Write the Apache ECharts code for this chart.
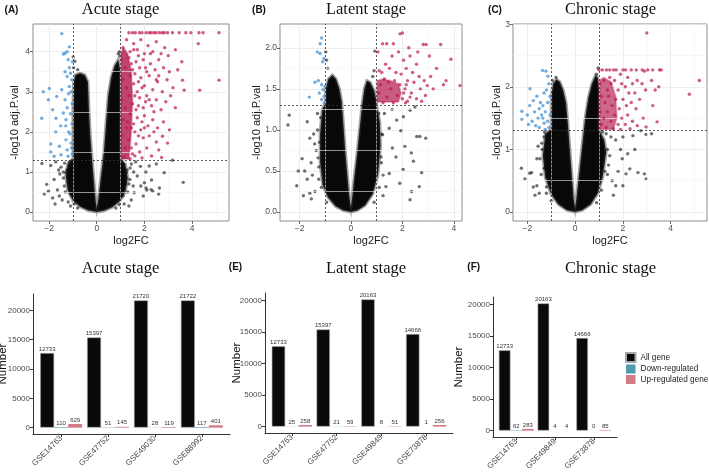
<!DOCTYPE html>
<html><head><meta charset="utf-8">
<script src="https://cdn.jsdelivr.net/npm/echarts@6/dist/echarts.min.js"></script>
<style>html,body{margin:0;padding:0;background:#fff}#c{width:709px;height:475px}</style>
</head><body><div id="c"></div>
<script>
// ---------------- bar chart data ----------------
const acuteCats = ['GSE14763','GSE47752','GSE49030','GSE88992'];
const acuteAll  = [12733,15397,21720,21722];
const acuteDown = [110,51,28,117];
const acuteUp   = [629,145,119,401];
const latentCats = ['GSE14763','GSE47752','GSE49849','GSE73878'];
const latentAll  = [12733,15397,20163,14666];
const latentDown = [25,21,8,1];
const latentUp   = [258,59,51,256];
const chronicCats = ['GSE14763','GSE49849','GSE73878'];
const chronicAll  = [12733,20163,14666];
const chronicDown = [62,4,0];
const chronicUp   = [283,4,85];
const barTicks = [0,5000,10000,15000,20000];
const legendNames = ['All gene','Down-regulated','Up-regulated gene'];

// ---------------- volcano data (log2FC, -log10 adj.P) ----------------
const acuteCore = [[0,0],[-0.35,0.04],[-0.7,0.13],[-1.0,0.28],[-1.22,0.55],[-1.3,0.9],[-1.22,1.2],[-1.0,1.32],[-1.0,2.5],[-0.98,3.2],[-0.9,3.42],[-0.7,3.47],[-0.5,3.42],[-0.37,3.25],[-0.33,2.6],[-0.27,1.9],[-0.18,1.2],[-0.1,0.65],[-0.04,0.25],[0,0.1],[0.06,0.3],[0.16,0.8],[0.3,1.5],[0.4,2.3],[0.48,2.9],[0.6,3.35],[0.75,3.65],[0.9,3.8],[1.0,3.5],[1.0,1.32],[1.2,1.2],[1.3,0.85],[1.2,0.5],[0.95,0.26],[0.65,0.12],[0.3,0.03]];
const acuteRedCore = [[1.0,1.32],[1.0,3.95],[1.12,4.1],[1.3,3.95],[1.45,3.5],[1.5,2.8],[1.45,2.0],[1.35,1.32]];
const acuteBlack = [[-2.1,0.69],[-2.03,0.52],[-1.79,0.81],[-1.57,0.4],[-1.36,0.65],[-1.29,0.98],[-1.72,1.25],[-2.3,1.21],[-1.93,1.16],[-1.5,1.12],[-1.45,0.3],[-1.65,0.55],[-1.85,0.35],[-1.4,0.85],[-1.55,0.95],[-1.35,1.22],[-1.6,1.05],[-2.2,0.45],[-1.75,0.2],[-1.2,0.25],[-1.1,0.15],[-0.99,3.87],[-0.92,3.76],[-0.97,3.6],[-0.8,3.55],[-1.05,1.28],
[1.24,0.98],[1.39,0.81],[1.53,0.65],[1.57,0.48],[1.85,0.65],[2.1,0.55],[2.3,0.8],[2.35,0.52],[2.06,1.0],[2.83,0.98],[3.18,1.29],[3.63,0.74],[1.63,1.25],[1.83,1.14],[1.4,1.1],[1.7,0.9],[1.95,0.4],[1.45,0.3],[1.3,0.5],[2.5,1.2],[2.2,1.15],[1.55,1.0],[2.6,0.45],[0.97,3.9],[0.95,4.0],[0.9,3.95],[2.28,0.56],[2.63,0.6],[2.0,0.73],[2.07,0.6],[1.15,0.2],[1.35,0.15],
[-1.1,0.45],[-1.2,0.75],[-1.25,1.05],[-1.15,1.25],[-0.95,0.2],[-0.8,0.1],[1.1,0.4],[1.2,0.7],[1.28,1.05],[1.1,1.2],[0.95,0.18],[0.8,0.1],[-1.32,0.5],[-1.05,0.6],[1.35,0.7],[1.45,1.2],[-1.4,1.0],[1.15,0.95]];
const acuteBlue = [[-1.47,4.45],[-1.33,3.96],[-1.24,4.0],[-1.2,3.8],[-1.33,3.5],[-1.24,3.38],[-1.1,3.46],[-2.24,3.0],[-1.99,3.08],[-2.03,2.8],[-1.85,2.55],[-1.68,2.88],[-1.47,3.05],[-1.33,2.8],[-1.24,2.6],[-1.18,2.95],[-1.29,2.3],[-1.51,2.15],[-1.72,2.0],[-1.93,1.7],[-1.57,1.64],[-1.29,1.8],[-1.18,2.0],[-1.24,1.55],[-2.31,2.34],[-1.93,1.5],[-1.79,1.39],[-1.5,1.43],[-1.2,1.39],[-1.08,1.72],[-1.15,3.13],[-1.3,2.15],[-1.4,2.47],[-1.05,3.3],[-1.08,3.0],[-1.03,2.7],[-1.1,2.45],[-1.04,2.2],[-1.12,1.95],[-1.06,1.6],[-1.03,1.45],[-1.15,3.6],[-1.02,3.75],[-1.15,4.12],[-1.4,3.94],[-1.71,2.34]];
const acuteRed = [[1.35,4.47],[1.5,4.47],[1.62,4.47],[1.79,4.47],[1.9,4.47],[2.07,4.47],[2.2,4.47],[2.28,4.47],[2.4,4.47],[2.49,4.47],[2.63,4.47],[2.75,4.47],[2.83,4.47],[2.97,4.47],[3.18,4.47],[3.46,4.47],[3.74,4.47],[3.95,4.47],[4.29,4.47],[4.46,4.47],[5.13,4.47],
[1.1,4.1],[1.25,4.3],[1.4,4.0],[1.55,4.2],[1.7,4.05],[1.85,4.3],[2.0,3.95],[2.15,4.15],[2.35,4.0],[2.5,4.25],[2.7,3.95],[2.85,4.1],[3.0,3.9],[3.3,4.05],[3.57,3.75],[4.26,4.2],
[1.05,3.8],[1.2,3.6],[1.35,3.85],[1.5,3.55],[1.65,3.75],[1.8,3.6],[1.95,3.8],[2.1,3.5],[2.25,3.7],[2.45,3.55],[2.6,3.8],[2.8,3.6],[3.05,3.5],[3.4,3.55],
[1.1,3.3],[1.25,3.1],[1.4,3.4],[1.55,3.2],[1.7,3.0],[1.85,3.35],[2.0,3.15],[2.2,3.4],[2.35,3.05],[2.55,3.25],[2.75,3.0],[2.95,3.3],[3.2,3.1],[3.6,3.29],[3.67,3.04],[4.32,3.04],[5.13,3.29],
[1.05,2.8],[1.2,2.6],[1.35,2.9],[1.5,2.7],[1.65,2.55],[1.8,2.85],[1.95,2.6],[2.1,2.9],[2.3,2.65],[2.5,2.8],[2.7,2.55],[2.9,2.75],[3.1,2.9],[3.3,2.6],
[1.1,2.3],[1.25,2.1],[1.4,2.45],[1.55,2.2],[1.7,2.35],[1.85,2.05],[2.0,2.4],[2.15,2.15],[2.35,2.3],[2.55,2.1],[2.8,2.25],[3.05,2.05],
[1.05,1.9],[1.2,1.6],[1.35,1.8],[1.5,1.45],[1.65,1.7],[1.8,1.5],[1.95,1.85],[2.1,1.6],[2.3,1.4],[2.5,1.75],[2.76,1.89],[2.97,1.72],[2.72,1.36],[1.15,1.38],[1.4,1.33],
[1.45,3.7],[1.6,3.45],[1.75,3.25],[1.6,2.9],[1.75,2.65],[1.9,2.25],[1.6,2.0],[1.75,1.9],[1.45,2.1],[1.9,3.1],[2.05,3.6],[1.3,2.25],[1.45,1.6],[1.6,1.4],[1.9,1.35],[2.2,1.9],[2.4,2.0],[2.6,1.55],[2.4,2.5],[2.6,3.4],[2.2,2.8],[2.0,2.1],[1.55,4.05],[1.75,3.9],[2.25,3.95],[2.5,3.3],[2.05,2.75]];

const latentCore = [[0,0],[-0.3,0.02],[-0.6,0.07],[-0.9,0.18],[-1.1,0.33],[-1.2,0.6],[-1.2,0.95],[-1.12,1.25],[-1.0,1.32],[-0.98,1.5],[-0.88,1.62],[-0.72,1.67],[-0.58,1.62],[-0.45,1.5],[-0.36,1.35],[-0.3,1.1],[-0.23,0.78],[-0.14,0.45],[-0.06,0.18],[0,0.06],[0.05,0.18],[0.12,0.4],[0.24,0.72],[0.35,1.05],[0.43,1.3],[0.52,1.5],[0.62,1.6],[0.75,1.58],[0.9,1.48],[1.0,1.35],[1.0,1.3],[1.12,1.1],[1.15,0.8],[1.05,0.45],[0.85,0.22],[0.55,0.08],[0.25,0.02]];
const latentRedCore = [[1.0,1.34],[1.0,1.6],[1.25,1.62],[1.55,1.6],[1.85,1.56],[1.95,1.45],[1.85,1.34]];
const latentBlack = [[-2.4,1.18],[-2.45,1.06],[-2.05,0.5],[-2.11,0.32],[-1.8,0.5],[-1.6,0.23],[-1.54,0.16],[-1.28,0.66],[-1.41,0.83],[-1.7,1.1],[-1.6,0.9],[-1.45,0.95],[-1.9,0.65],[-1.55,0.6],[-1.4,0.25],[-1.5,0.45],[-1.35,0.75],[-1.85,0.2],[-1.3,1.2],[-1.7,0.4],[-1.25,0.4],[-0.98,1.95],[-0.95,1.85],[-0.9,1.75],[0.93,1.96],[0.9,1.72],[0.85,1.65],
[2.56,0.92],[2.68,0.92],[2.91,0.9],[2.1,0.8],[2.35,0.72],[2.43,0.62],[2.75,0.48],[2.66,0.31],[2.36,0.25],[2.03,0.52],[1.75,0.67],[1.49,0.47],[1.36,0.31],[1.78,1.12],[2.04,1.16],[2.3,1.24],[2.49,1.28],[1.49,1.02],[1.23,0.94],[1.61,0.78],[1.94,0.99],[1.17,0.67],[2.3,0.15],[1.3,1.2],[1.6,1.25],[1.9,0.35],[1.25,0.2],
[-1.15,0.3],[-1.25,0.55],[-1.22,0.85],[-1.18,1.15],[-0.95,0.12],[1.1,0.3],[1.18,0.6],[1.2,0.95],[1.08,1.2],[0.9,0.12],[-1.3,1.0],[1.25,0.45]];
const latentBlue = [[-1.14,2.12],[-1.2,2.05],[-1.31,1.95],[-1.2,1.93],[-1.05,1.87],[-1.1,1.83],[-1.4,1.58],[-1.27,1.6],[-1.14,1.55],[-1.08,1.49],[-1.62,1.4],[-1.23,1.45],[-1.04,1.41],[-1.14,1.37],[-1.04,1.33],[-1.01,1.53]];
const latentRed = [[1.91,2.17],[2.0,2.18],[1.23,2.05],[1.39,2.05],[1.65,2.05],[2.81,2.04],[2.92,2.04],[3.49,2.04],[4.24,1.54],[3.89,1.86],[3.33,1.75],[2.97,1.54],
[1.05,1.95],[1.1,1.72],[1.2,1.7],[1.35,1.8],[1.5,1.75],[1.6,1.9],[1.75,1.7],[1.85,1.95],[2.05,1.85],[2.15,1.75],[2.3,1.9],[2.4,1.7],[2.55,1.8],[2.65,1.65],[2.2,1.6],[2.45,1.58],[2.7,1.5],[2.85,1.6],[3.1,1.65],[3.2,1.5],[3.6,1.55],[3.7,1.6],[3.05,1.9],[2.6,1.95],[1.3,1.62],[1.45,1.58],[1.7,1.6],[1.9,1.55],[2.1,1.5],[2.35,1.45],[2.55,1.38],[2.75,1.35],[2.9,1.42],[1.15,1.55],[1.55,1.5],[1.8,1.42],[2.0,1.38],[2.2,1.35],[1.08,1.45],[1.4,1.4],[1.65,1.33],[1.25,1.33],[1.95,1.68],[2.25,2.0],[2.05,1.45],[2.15,1.55],[2.3,1.4],[2.12,1.33]];

const chronicCore = [[0,0],[-0.35,0.03],[-0.7,0.12],[-1.0,0.28],[-1.25,0.55],[-1.35,0.9],[-1.25,1.25],[-1.0,1.32],[-1.0,1.85],[-0.92,2.05],[-0.78,2.12],[-0.64,2.08],[-0.5,1.95],[-0.38,1.75],[-0.3,1.4],[-0.22,1.0],[-0.14,0.6],[-0.06,0.22],[0,0.07],[0.05,0.2],[0.12,0.45],[0.22,0.8],[0.32,1.15],[0.42,1.5],[0.55,1.82],[0.7,2.05],[0.85,2.18],[0.95,2.15],[1.0,1.95],[1.0,1.32],[1.22,1.15],[1.3,0.95],[1.15,0.55],[0.95,0.3],[0.65,0.12],[0.3,0.03]];
const chronicRedCore = [[1.0,1.32],[1.0,2.1],[1.2,2.15],[1.5,2.08],[1.7,1.85],[1.75,1.5],[1.6,1.32]];
const chronicBlack = [[-2.1,0.53],[-1.82,0.63],[-1.6,0.42],[-1.47,0.85],[-1.4,1.1],[-1.2,0.3],[-1.68,0.27],[-1.9,0.62],[-1.75,0.4],[-1.6,0.85],[-1.5,0.3],[-1.3,1.2],[-1.55,1.05],[-2.25,0.7],[-0.95,2.1],[-0.8,2.15],[0.96,2.3],[0.9,2.2],
[2.97,1.24],[2.42,1.22],[2.5,1.0],[2.2,0.93],[1.97,0.85],[2.29,0.69],[2.13,0.61],[2.63,0.63],[2.9,0.61],[2.97,0.53],[2.0,0.42],[1.7,0.42],[1.6,0.27],[1.3,1.25],[1.5,1.2],[1.7,1.15],[2.0,1.2],[1.45,0.9],[1.8,0.65],[1.35,0.6],[1.55,0.5],[2.75,1.3],[3.2,1.25],[1.9,1.0],
[-1.2,0.4],[-1.3,0.7],[-1.38,1.0],[-1.28,1.28],[-1.0,0.18],[1.1,0.35],[1.25,0.65],[1.35,1.0],[1.15,1.28],[0.9,0.15],[-1.42,0.6],[1.4,0.75]];
const chronicBlue = [[-1.89,1.97],[-2.23,1.61],[-2.23,1.48],[-1.36,2.26],[-1.22,2.25],[-1.14,2.17],[-1.75,1.78],[-1.6,1.85],[-1.5,1.65],[-1.45,1.75],[-1.35,1.7],[-1.3,1.9],[-1.2,1.95],[-1.1,2.05],[-1.05,1.85],[-1.15,1.75],[-1.25,1.6],[-1.4,1.55],[-1.55,1.5],[-1.7,1.6],[-1.8,1.45],[-1.65,1.38],[-1.5,1.35],[-1.3,1.42],[-1.15,1.45],[-1.05,1.55],[-1.1,1.35],[-1.9,1.7],[-2.0,1.55],[-1.95,1.4],[-1.35,1.5],[-1.25,1.32]];
const chronicRed = [[1.0,2.27],[1.14,2.27],[1.31,2.27],[1.45,2.27],[1.61,2.27],[1.72,2.27],[2.0,2.27],[2.11,2.27],[2.35,2.27],[2.56,2.27],[2.81,2.27],[3.04,2.27],[3.25,2.27],[3.53,2.27],[3.6,2.27],[3.0,2.86],[5.2,2.1],[4.78,1.88],[3.5,2.0],[3.25,1.7],[3.43,1.44],[2.97,1.36],
[1.05,2.05],[1.2,2.1],[1.35,1.95],[1.5,2.05],[1.65,2.1],[1.8,1.95],[1.95,2.05],[2.1,2.0],[2.25,1.9],[2.4,2.05],[2.6,2.1],[2.8,2.05],[2.95,1.95],[3.2,2.1],[1.1,1.85],[1.25,1.75],[1.4,1.85],[1.55,1.7],[1.7,1.8],[1.85,1.65],[2.0,1.8],[2.15,1.7],[2.35,1.75],[2.55,1.65],[2.7,1.8],[2.2,1.55],[1.05,1.6],[1.2,1.5],[1.35,1.6],[1.5,1.45],[1.65,1.55],[1.8,1.4],[1.95,1.5],[2.1,1.4],[2.4,1.45],[2.6,1.38],[1.1,1.4],[1.3,1.35],[1.6,1.33],[1.9,1.32],[2.3,1.33],[2.85,1.5],[2.5,1.9],[1.45,2.15],[1.9,2.2],[2.2,2.15],[3.35,1.95],[2.9,2.25]];

// ---------------- build ----------------
const SANS = '"Liberation Sans", Arial, sans-serif';
const SERIF = '"Liberation Serif", "Times New Roman", serif';
const grids = [], xAxes = [], yAxes = [], series = [];
const neg = v => (v < 0 ? '\u2212' + Math.abs(v) : String(v));

function polySeries(i, pts, color, edge, edgeW, opacity, z) {
  return {type:'custom', xAxisIndex:i, yAxisIndex:i, z:z, silent:true, data:[pts[0]],
    renderItem:(p, api) => ({type:'polygon', shape:{points: pts.map(q => api.coord(q))},
      style:{fill:color, stroke:edge, lineWidth:edgeW, opacity:opacity}})};
}
function scatter(i, pts, color, opacity, z) {
  return {type:'scatter', xAxisIndex:i, yAxisIndex:i, z:z, silent:true, data:pts, symbolSize:3.4,
    itemStyle:{color:color, opacity:opacity}};
}

function addVolcano(g, v) {
  const i = grids.length;
  grids.push(Object.assign({show:true, borderColor:'#8c8c8c', borderWidth:1, backgroundColor:'#fff', outerBoundsMode:'none'}, g));
  xAxes.push({gridIndex:i, type:'value', min:v.xr[0], max:v.xr[1],
    name:'log2FC', nameLocation:'middle', nameGap:14, nameMoveOverlap:false,
    nameTextStyle:{fontSize:11, color:'#1a1a1a', fontFamily:SANS},
    axisLine:{show:false, onZero:false},
    axisTick:{show:true, length:3, customValues:v.xt, lineStyle:{color:'#444', width:0.8}},
    axisLabel:{customValues:v.xt, fontSize:8.5, color:'#4d4d4d', margin:3, fontFamily:SANS, formatter:neg},
    splitLine:{show:true, lineStyle:{color:'#e8e8e8', width:0.8}}});
  yAxes.push({gridIndex:i, type:'value', min:v.yr[0], max:v.yr[1],
    name:'-log10 adj.P.val', nameLocation:'middle', nameGap:v.nameGap, nameMoveOverlap:false,
    nameTextStyle:{fontSize:11, color:'#1a1a1a', fontFamily:SANS},
    axisLine:{show:false, onZero:false},
    axisTick:{show:true, length:3, customValues:v.yt, lineStyle:{color:'#444', width:0.8}},
    axisLabel:{customValues:v.yt, fontSize:8.5, color:'#4d4d4d', margin:3, fontFamily:SANS, formatter:v.yf},
    splitLine:{show:true, lineStyle:{color:'#e8e8e8', width:0.8}}});
  series.push({type:'scatter', xAxisIndex:i, yAxisIndex:i, data:[], z:1, silent:true,
    markLine:{silent:true, animation:false, symbol:['none','none'], label:{show:false},
      lineStyle:{color:'#f3f3f3', width:0.6, type:'solid'},
      data:[...v.xm.map(x => ({xAxis:x})), ...v.ym.map(y => ({yAxis:y}))]}});
  series.push(polySeries(i, v.core, '#080808', 'rgba(50,50,50,0.45)', 3, 1, 2));
  series.push(scatter(i, v.black, '#111', 0.6, 3));
  series.push(polySeries(i, v.redCore, '#b0154c', 'rgba(176,21,76,0.4)', 2, v.coreOp, 4));
  series.push(scatter(i, v.blue, '#4592d2', 0.75, 5));
  series.push(scatter(i, v.red, '#bb1652', 0.7, 5));
  series.push({type:'scatter', xAxisIndex:i, yAxisIndex:i, data:[], z:10, silent:true,
    markLine:{silent:true, animation:false, symbol:['none','none'], label:{show:false},
      lineStyle:{color:'#333', width:0.8, type:[2,2]},
      data:[{xAxis:-1},{xAxis:1},{yAxis:1.301}]}});
}

function addBars(g, b) {
  const i = grids.length;
  const ticks = b.cats.map((c, k) => k + 1);
  grids.push(Object.assign({show:false, outerBoundsMode:'none'}, g));
  xAxes.push({gridIndex:i, type:'value', min:0.4, max:b.cats.length + 0.6,
    axisLine:{show:true, onZero:false, lineStyle:{color:'#333', width:1}},
    axisTick:{show:true, length:3, customValues:ticks, lineStyle:{color:'#333'}},
    axisLabel:{customValues:ticks, rotate:45, fontSize:8, color:'#4d4d4d', margin:3, fontFamily:SANS,
      formatter:v => b.cats[Math.round(v) - 1]},
    splitLine:{show:false}});
  yAxes.push({gridIndex:i, type:'value', min:b.yr[0], max:b.yr[1],
    name:'Number', nameLocation:'middle', nameGap:b.nameGap, nameMoveOverlap:false,
    nameTextStyle:{fontSize:11.5, color:'#111', fontFamily:SANS},
    axisLine:{show:true, onZero:false, lineStyle:{color:'#333', width:1}},
    axisTick:{show:true, length:3, customValues:barTicks, lineStyle:{color:'#333'}},
    axisLabel:{customValues:barTicks, fontSize:8, color:'#4d4d4d', margin:3, fontFamily:SANS, formatter:v => String(v)},
    splitLine:{show:false}});
  const sets = [[legendNames[0], b.all, '#0a0a0a', '#a8a8a8', 0.6],
                [legendNames[1], b.down, '#4f9bab', '#4f9bab', 0],
                [legendNames[2], b.up, '#d27a85', '#d27a85', 0]];
  sets.forEach(s => {
    series.push({type:'bar', name:s[0], xAxisIndex:i, yAxisIndex:i, barWidth:b.bw, barGap:'0%', z:3,
      data:s[1].map((val, k) => [k + 1, val]),
      itemStyle:{color:s[2], borderColor:s[3], borderWidth:s[4]},
      label:{show:true, position:'top', distance:1, fontSize:6, color:'#333', fontFamily:SANS,
        formatter:p => p.value[1]}});
  });
}

addVolcano({left:33, top:24, width:196, height:197}, {
  xr:[-2.675,5.55], yr:[-0.2235,4.69], xt:[-2,0,2,4], yt:[0,1,2,3,4], xm:[-1,1,3,5], ym:[0.5,1.5,2.5,3.5,4.5],
  yf:v => String(v), nameGap:13, coreOp:0.8, core:acuteCore, redCore:acuteRedCore, black:acuteBlack, blue:acuteBlue, red:acuteRed});
addVolcano({left:280, top:24, width:182, height:197}, {
  xr:[-2.76,4.32], yr:[-0.109,2.29], xt:[-2,0,2,4], yt:[0,0.5,1,1.5,2], xm:[-1,1,3], ym:[0.25,0.75,1.25,1.75,2.25],
  yf:v => v.toFixed(1), nameGap:18, coreOp:0.7, core:latentCore, redCore:latentRedCore, black:latentBlack, blue:latentBlue, red:latentRed});
addVolcano({left:513, top:24, width:194, height:197}, {
  xr:[-2.6,5.52], yr:[-0.143,3.003], xt:[-2,0,2,4], yt:[0,1,2,3], xm:[-1,1,3,5], ym:[0.5,1.5,2.5],
  yf:v => String(v), nameGap:11, coreOp:0.65, core:chronicCore, redCore:chronicRedCore, black:chronicBlack, blue:chronicBlue, red:chronicRed});

addBars({left:33, top:294, width:197, height:140}, {cats:acuteCats, all:acuteAll, down:acuteDown, up:acuteUp, yr:[-1086.1,22808.1], bw:14, nameGap:24});
addBars({left:265, top:293, width:188, height:140}, {cats:latentCats, all:latentAll, down:latentDown, up:latentUp, yr:[-1008.15,21171.15], bw:13.4, nameGap:22});
addBars({left:493, top:297, width:124, height:140}, {cats:chronicCats, all:chronicAll, down:chronicDown, up:chronicUp, yr:[-1008.15,21171.15], bw:11.6, nameGap:28});

const txt = (x, y, t, size, fam, weight) => ({type:'text', x:x, y:y, silent:true,
  style:{text:t, fontSize:size, fontFamily:fam, fontWeight:weight || 'normal', fill:'#111', align:'center', verticalAlign:'middle'}});

const chart = echarts.init(document.getElementById('c'), null, {renderer:'canvas'});
chart.setOption({
  animation:false,
  backgroundColor:'#fff',
  grid:grids, xAxis:xAxes, yAxis:yAxes, series:series,
  legend:{data:legendNames, orient:'vertical', left:625, top:352, padding:0, itemWidth:9.5, itemHeight:9, itemGap:1.5,
    icon:'rect', selectedMode:false, textStyle:{fontSize:8.2, color:'#222', fontFamily:SANS, lineHeight:9}},
  graphic:[
    txt(120.5, 10, 'Acute stage', 16.5, SERIF), txt(366, 10, 'Latent stage', 16.5, SERIF), txt(610.5, 10, 'Chronic stage', 16.5, SERIF),
    txt(120.5, 269, 'Acute stage', 16.5, SERIF), txt(366, 269, 'Latent stage', 16.5, SERIF), txt(610.5, 269, 'Chronic stage', 16.5, SERIF),
    txt(11.5, 10.5, '(A)', 10, SANS, 'bold'), txt(259, 10.5, '(B)', 10, SANS, 'bold'), txt(495, 10.5, '(C)', 10, SANS, 'bold'),
    txt(235.5, 267.5, '(E)', 10, SANS, 'bold'), txt(473.7, 267.5, '(F)', 10, SANS, 'bold')
  ]
});
</script></body></html>
